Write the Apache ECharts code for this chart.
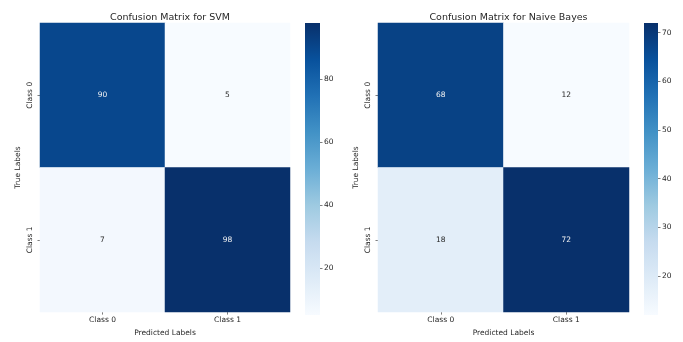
<!DOCTYPE html>
<html>
<head>
<meta charset="utf-8">
<script src="https://cdn.jsdelivr.net/npm/echarts@6/dist/echarts.min.js"></script>
<style>
  html, body { margin: 0; padding: 0; background: #fff; }
  #chart { width: 683px; height: 342px; }
</style>
</head>
<body>
<div id="chart"></div>
<script>
// Class labels shared by both matrices
const classes = ['Class 0', 'Class 1'];

// Confusion matrices, rows = true class, columns = predicted class
const svmMatrix = [[90, 5], [7, 98]];
const nbMatrix = [[68, 12], [18, 72]];

// Colour scale ranges and colorbar tick values
const svmRange = [5, 98];
const nbRange = [12, 72];
const svmTicks = [20, 40, 60, 80];
const nbTicks = [20, 30, 40, 50, 60, 70];

const titles = ['Confusion Matrix for SVM', 'Confusion Matrix for Naive Bayes'];

// matplotlib "Blues" colormap stops
const blues = ['#f7fbff', '#deebf7', '#c6dbef', '#9ecae1', '#6baed6',
               '#4292c6', '#2171b5', '#08519c', '#08306b'];

const FONT = 'DejaVu Sans';
const TEXT = '#262626';
const SMALL = 7.5;

function cells(matrix, range) {
  const out = [];
  const mid = range[0] + (range[1] - range[0]) * 0.55;
  matrix.forEach((row, r) => row.forEach((v, c) => {
    out.push({ value: [c, r, v], label: { color: v > mid ? '#f4f4f4' : TEXT } });
  }));
  return out;
}

function gradient() {
  return new echarts.graphic.LinearGradient(0, 1, 0, 0,
    blues.map((c, i) => ({ offset: i / (blues.length - 1), color: c })));
}

const panels = [
  { m: svmMatrix, range: svmRange, ticks: svmTicks, heat: { left: 40, width: 250 }, bar: { left: 305, width: 15 } },
  { m: nbMatrix, range: nbRange, ticks: nbTicks, heat: { left: 378, width: 251 }, bar: { left: 644, width: 14 } }
];

const grid = [], xAxis = [], yAxis = [], series = [], visualMap = [], title = [];

panels.forEach((p, i) => {
  const hg = grid.length;
  grid.push({ left: p.heat.left, top: 23, width: p.heat.width, height: 292 });
  grid.push({ left: p.bar.left, top: 23, width: p.bar.width, height: 292 });

  title.push({
    text: titles[i],
    left: p.heat.left + p.heat.width / 2, top: 8, textAlign: 'center',
    textStyle: { fontFamily: FONT, fontSize: 9.5, fontWeight: 'normal', color: TEXT }
  });

  xAxis.push({
    type: 'category', data: classes, gridIndex: hg,
    name: 'Predicted Labels', nameLocation: 'middle', nameGap: 16,
    nameTextStyle: { fontFamily: FONT, fontSize: SMALL, color: TEXT },
    axisLine: { show: false },
    axisTick: { show: true, alignWithLabel: true, length: 2.5, lineStyle: { color: TEXT, width: 0.6 } },
    axisLabel: { fontFamily: FONT, fontSize: SMALL, color: TEXT, margin: 4 },
    splitLine: { show: false }
  });
  yAxis.push({
    type: 'category', data: classes, gridIndex: hg, inverse: true,
    name: 'True Labels', nameLocation: 'middle', nameGap: 18,
    nameTextStyle: { fontFamily: FONT, fontSize: SMALL, color: TEXT },
    axisLine: { show: false },
    axisTick: { show: true, alignWithLabel: true, length: 2.5, lineStyle: { color: TEXT, width: 0.6 } },
    axisLabel: { fontFamily: FONT, fontSize: SMALL, color: TEXT, rotate: 90, margin: 6 },
    splitLine: { show: false }
  });

  // colorbar axes
  xAxis.push({ type: 'category', data: ['cb'], gridIndex: hg + 1, show: false });
  yAxis.push({
    type: 'value', gridIndex: hg + 1, position: 'right',
    min: p.range[0], max: p.range[1],
    axisLine: { show: false },
    axisTick: { show: true, length: 2.5, customValues: p.ticks, lineStyle: { color: TEXT, width: 0.6 } },
    axisLabel: { fontFamily: FONT, fontSize: SMALL, color: TEXT, margin: 4, customValues: p.ticks },
    splitLine: { show: false }
  });

  series.push({
    type: 'heatmap', xAxisIndex: hg, yAxisIndex: hg,
    data: cells(p.m, p.range),
    label: { show: true, fontFamily: FONT, fontSize: SMALL },
    emphasis: { disabled: true },
    itemStyle: { borderWidth: 0 }
  });
  visualMap.push({
    show: false, seriesIndex: series.length - 1, dimension: 2,
    min: p.range[0], max: p.range[1], inRange: { color: blues }
  });

  series.push({
    type: 'bar', xAxisIndex: hg + 1, yAxisIndex: hg + 1,
    data: [p.range[1]], barWidth: '100%',
    itemStyle: { color: gradient() },
    emphasis: { disabled: true }, silent: true
  });
});

const chart = echarts.init(document.getElementById('chart'), null, { renderer: 'canvas' });
chart.setOption({
  animation: false,
  backgroundColor: '#ffffff',
  title, grid, xAxis, yAxis, series, visualMap
});
</script>
</body>
</html>
